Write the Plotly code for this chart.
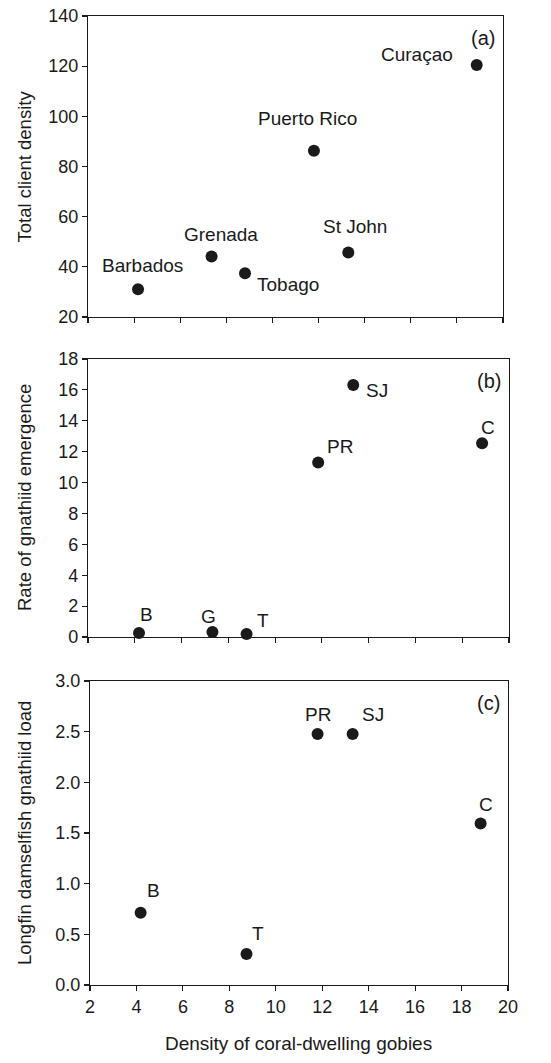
import plotly.graph_objects as go

# ---- data ----
names_a = ["Barbados", "Grenada", "Tobago", "Puerto Rico", "St John", "Curaçao"]
goby_a = [4.17, 7.36, 8.81, 11.80, 13.29, 18.86]
client_density = [31.1, 44.1, 37.4, 86.3, 45.7, 120.5]

names_b = ["B", "G", "T", "PR", "SJ", "C"]
goby_b = [4.18, 7.32, 8.78, 11.84, 13.34, 18.85]
emergence = [0.26, 0.32, 0.19, 11.3, 16.32, 12.55]

names_c = ["B", "T", "PR", "SJ", "C"]
goby_c = [4.18, 8.74, 11.80, 13.31, 18.82]
gnathiid_load = [0.713, 0.306, 2.478, 2.478, 1.594]

x_ticks = [2, 4, 6, 8, 10, 12, 14, 16, 18, 20]
y_ticks_a = [20, 40, 60, 80, 100, 120, 140]
y_ticks_b = [0, 2, 4, 6, 8, 10, 12, 14, 16, 18]
y_ticks_c = [0.0, 0.5, 1.0, 1.5, 2.0, 2.5, 3.0]
y_tick_text_c = ["0.0", "0.5", "1.0", "1.5", "2.0", "2.5", "3.0"]

panel_tags = ["(a)", "(b)", "(c)"]
y_titles = ["Total client density", "Rate of gnathiid emergence",
            "Longfin damselfish gnathiid load"]
x_title = "Density of coral-dwelling gobies"

# ---- styling (label pixel offsets) ----
off_a = [(4, -24), (9, -22), (43, 11), (-6, -32), (7, -26), (-60, -10)]
off_b = [(8, -18), (-4, -16), (16, -14), (22, -16), (24, 6), (6, -16)]
off_c = [(13, -22), (11, -20), (0, -19), (20, -19), (5, -19)]

W, H = 551, 1063
FONT = "Liberation Sans, Arial, sans-serif"
INK = "#1a1a1a"

def px_x(p):
    return p / W

def px_y(p):
    return 1 - p / H

panels = [
    dict(x=goby_a, y=client_density, names=names_a, off=off_a,
         xd=(88, 503), yd=(16, 317), yr=[20, 140], yt=y_ticks_a, ytt=None),
    dict(x=goby_b, y=emergence, names=names_b, off=off_b,
         xd=(88, 509), yd=(359, 637), yr=[0, 18], yt=y_ticks_b, ytt=None),
    dict(x=goby_c, y=gnathiid_load, names=names_c, off=off_c,
         xd=(90, 508), yd=(681, 985), yr=[0, 3], yt=y_ticks_c, ytt=y_tick_text_c),
]

fig = go.Figure()
annotations = []
layout = {}
for i, p in enumerate(panels):
    n = "" if i == 0 else str(i + 1)
    xa, ya = "x" + n, "y" + n
    fig.add_trace(go.Scatter(
        x=p["x"], y=p["y"], mode="markers", xaxis=xa, yaxis=ya,
        marker=dict(size=12, color=INK, line=dict(width=0)),
        showlegend=False, hoverinfo="skip", cliponaxis=False))
    layout["xaxis" + n] = dict(
        domain=[px_x(p["xd"][0]), px_x(p["xd"][1])], anchor=ya,
        range=[2, 20], tickvals=x_ticks, showticklabels=(i == 2),
        ticks="outside", ticklen=5, tickwidth=1.2, tickcolor=INK,
        showline=True, linecolor=INK, linewidth=1.2, mirror=True,
        showgrid=False, zeroline=False, automargin=False,
        tickfont=dict(family=FONT, size=18, color=INK))
    yax = dict(
        domain=[px_y(p["yd"][1]), px_y(p["yd"][0])], anchor=xa,
        range=p["yr"], tickvals=p["yt"],
        ticks="outside", ticklen=5, tickwidth=1.2, tickcolor=INK,
        showline=True, linecolor=INK, linewidth=1.2, mirror=True,
        showgrid=False, zeroline=False, automargin=False,
        tickfont=dict(family=FONT, size=18, color=INK))
    if p["ytt"] is not None:
        yax["ticktext"] = p["ytt"]
    layout["yaxis" + n] = yax
    for name, xv, yv, (dx, dy) in zip(p["names"], p["x"], p["y"], p["off"]):
        annotations.append(dict(
            x=xv, y=yv, xref=xa, yref=ya, text=name, showarrow=False,
            xshift=dx, yshift=-dy, xanchor="center", yanchor="middle",
            font=dict(family=FONT, size=19, color=INK)))
    # panel tag
    annotations.append(dict(
        x=px_x(p["xd"][1] - 20), y=px_y(p["yd"][0] + 22), xref="paper", yref="paper",
        text=panel_tags[i], showarrow=False, xanchor="center", yanchor="middle",
        font=dict(family=FONT, size=20, color=INK)))
    # y title
    annotations.append(dict(
        x=px_x(24), y=px_y((p["yd"][0] + p["yd"][1]) / 2), xref="paper", yref="paper",
        text=y_titles[i], showarrow=False, textangle=-90,
        xanchor="center", yanchor="middle",
        font=dict(family=FONT, size=18.5, color=INK)))

annotations.append(dict(
    x=px_x(299), y=px_y(1043), xref="paper", yref="paper", text=x_title,
    showarrow=False, xanchor="center", yanchor="middle",
    font=dict(family=FONT, size=19, color=INK)))

fig.update_layout(
    width=W, height=H, margin=dict(l=0, r=0, t=0, b=0, autoexpand=False),
    paper_bgcolor="white", plot_bgcolor="white",
    annotations=annotations, **layout)

fig.write_html(
    "out.html",
    config={"displayModeBar": False, "staticPlot": True},
    post_script="document.body.style.margin='0';document.body.style.overflow='hidden';")
